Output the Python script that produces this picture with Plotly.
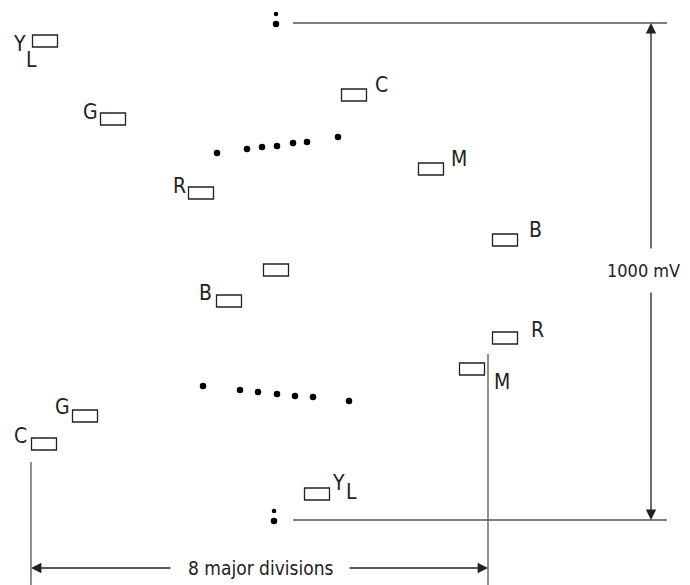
import plotly.graph_objects as go

# ---- data (diagram coordinates: x right, y down, in drawing units) ----
upper_labels = ["YL", "G", "R", "C", "M", "B"]
upper_box_x = [45, 113, 201, 354, 431, 505]
upper_box_y = [41, 119, 193, 95, 169, 240]

lower_labels = ["", "B", "C", "G", "R", "M", "YL"]
lower_box_x = [276, 229, 44, 85, 505, 472, 317]
lower_box_y = [270, 301, 444, 416, 338, 369, 494]

upper_dots_x = [217, 247, 262, 277, 293, 307, 338]
upper_dots_y = [153, 149, 147, 146, 143, 142, 137]
lower_dots_x = [203, 240, 258, 277, 295, 313, 349]
lower_dots_y = [386, 390, 392, 394, 396, 397, 401]

ref_top_y = 23
ref_bottom_y = 520
ref_line_x = [293, 667]
div_left_x = 31
div_right_x = 488
scale_text_v = "1000 mV"
scale_text_h = "8 major divisions"

# label placement (text centre) for each labelled box
upper_label_pos = {"G": (90, 112), "R": (179, 186), "C": (381, 85),
                   "M": (459, 159), "B": (535, 230)}
lower_label_pos = {"B": (205, 293), "C": (20, 436), "G": (62, 407),
                   "R": (537, 330), "M": (502, 382)}

BOX_W, BOX_H = 25, 12
INK = "#222222"
LINE = "#555555"
FONT = "DejaVu Sans Condensed, Liberation Sans Narrow, Liberation Sans, sans-serif"
FS = 21
OFF = 8  # page body margin compensation

fig = go.Figure()

shapes = []
for bx, by in zip(upper_box_x + lower_box_x, upper_box_y + lower_box_y):
    shapes.append(dict(type="rect", xref="x", yref="y",
                       x0=bx - BOX_W / 2, x1=bx + BOX_W / 2,
                       y0=by - BOX_H / 2, y1=by + BOX_H / 2,
                       line=dict(color=INK, width=1.3), fillcolor="white"))

for ry in (ref_top_y, ref_bottom_y):
    shapes.append(dict(type="line", xref="x", yref="y", x0=ref_line_x[0], x1=ref_line_x[1],
                       y0=ry, y1=ry, line=dict(color=LINE, width=1.3)))
shapes.append(dict(type="line", xref="x", yref="y", x0=div_left_x, x1=div_left_x,
                   y0=462, y1=590, line=dict(color=LINE, width=1.3)))
shapes.append(dict(type="line", xref="x", yref="y", x0=div_right_x, x1=div_right_x,
                   y0=354, y1=590, line=dict(color=LINE, width=1.3)))

fig.update_layout(shapes=shapes)

fig.add_trace(go.Scatter(x=upper_dots_x + lower_dots_x, y=upper_dots_y + lower_dots_y,
                         mode="markers", marker=dict(size=6.5, color="black"),
                         hoverinfo="skip", showlegend=False))
fig.add_trace(go.Scatter(x=[276, 274], y=[ref_top_y - 9, ref_bottom_y - 9], mode="markers",
                         marker=dict(size=4.5, color="black"), hoverinfo="skip", showlegend=False))
fig.add_trace(go.Scatter(x=[276, 274], y=[ref_top_y + 1, ref_bottom_y + 1], mode="markers",
                         marker=dict(size=6.5, color="black"), hoverinfo="skip", showlegend=False))

ann = []
def txt(x, y, s, size=FS):
    ann.append(dict(x=x, y=y, xref="x", yref="y", text=s, showarrow=False,
                    xanchor="center", yanchor="middle",
                    font=dict(family=FONT, size=size, color=INK)))

for lab, (tx, ty) in upper_label_pos.items():
    txt(tx, ty, lab)
for lab, (tx, ty) in lower_label_pos.items():
    txt(tx, ty, lab)
txt(19, 44, "Y"); txt(31, 60, "L")
txt(338, 483, "Y"); txt(351, 492, "L")

txt(643, 270, scale_text_v, size=18)
txt(260, 568, scale_text_h, size=19)

def arrow(x, y, ax, ay):
    ann.append(dict(x=x, y=y, ax=ax, ay=ay, xref="x", yref="y", axref="x", ayref="y",
                    text="", showarrow=True, arrowhead=2, arrowsize=1.6, arrowwidth=1.3,
                    arrowcolor=INK, standoff=0, startstandoff=0))

arrow(651, ref_top_y, 651, 250)
arrow(651, ref_bottom_y, 651, 291)
arrow(div_left_x, 568, 172, 568)
arrow(div_right_x, 568, 348, 568)

fig.update_layout(annotations=ann)

fig.update_layout(
    width=690 - OFF, height=585 - OFF, margin=dict(l=0, r=0, t=0, b=0),
    plot_bgcolor="white", paper_bgcolor="white",
    xaxis=dict(range=[OFF, 690], visible=False, fixedrange=True),
    yaxis=dict(range=[585, OFF], visible=False, fixedrange=True),
    showlegend=False,
)

fig.write_html("out.html")
